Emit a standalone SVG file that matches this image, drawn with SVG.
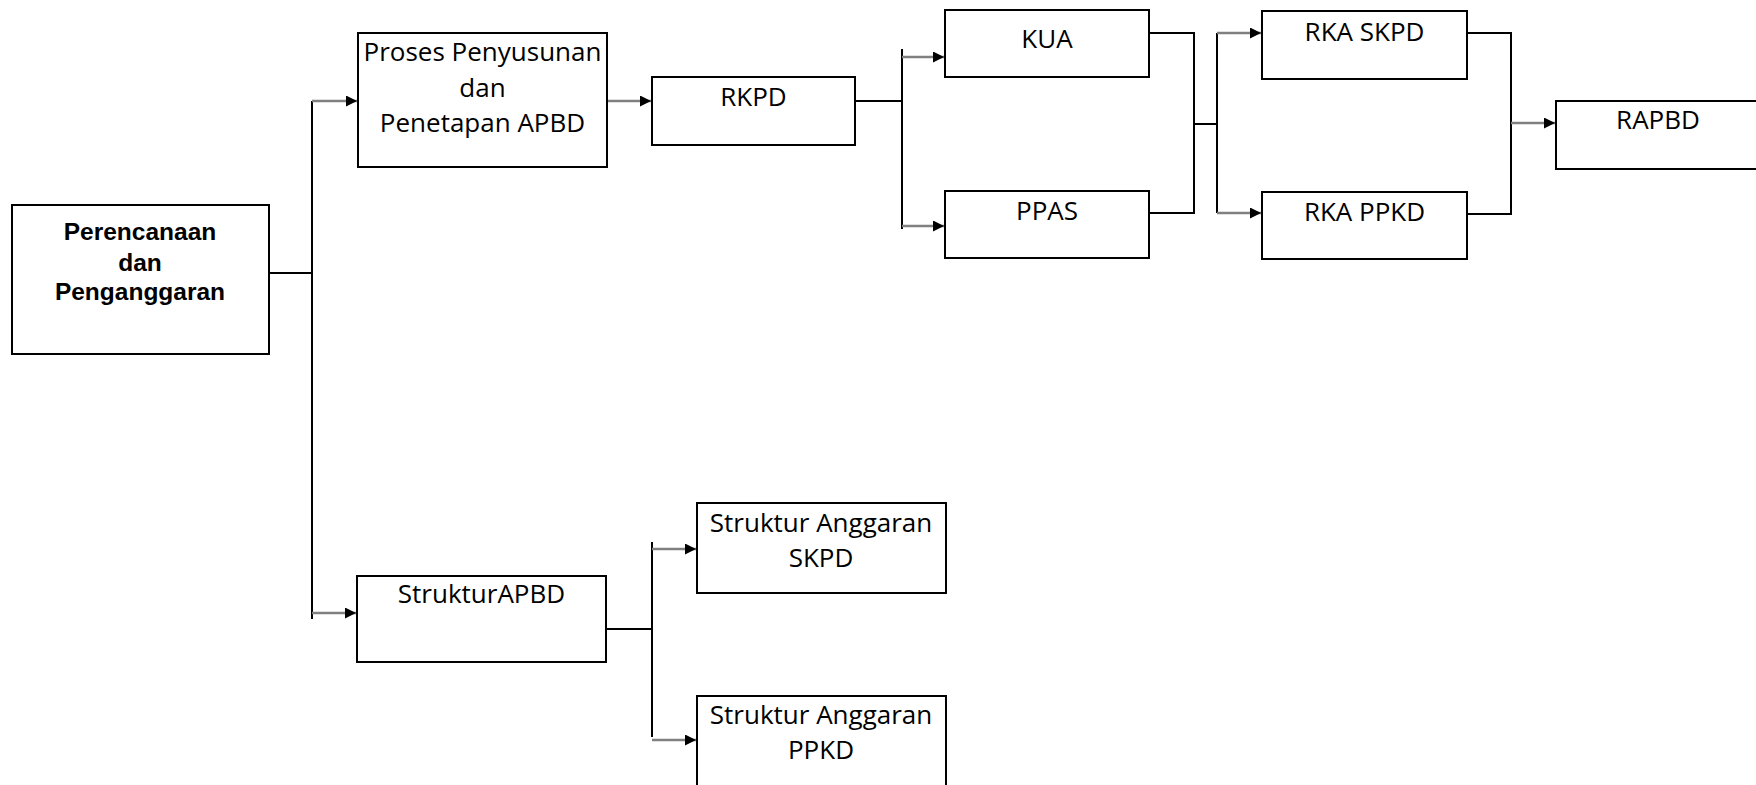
<svg xmlns="http://www.w3.org/2000/svg" width="1756" height="785" viewBox="0 0 1756 785">
<defs>
<style>
.box{fill:#fff;stroke:#000;stroke-width:2}
.t{font-family:"Open Sans","Noto Sans",sans-serif;font-size:26px;fill:#000;text-anchor:middle}
.tb{font-family:"Liberation Sans",Arial,sans-serif;font-weight:bold;font-size:24.5px;fill:#000;text-anchor:middle}
.ln{fill:none;stroke:#000;stroke-width:2}
.ar{fill:none;stroke:#808080;stroke-width:2.5;marker-end:url(#ah)}
</style>
<marker id="ah" viewBox="0 0 10 10" refX="10" refY="5" markerWidth="5" markerHeight="4.4" markerUnits="strokeWidth" orient="auto">
<path d="M0,0 L10,5 L0,10 z" fill="#000"/>
</marker>
</defs>
<rect width="1756" height="785" fill="#fff"/>
<g id="connectors">
<path class="ln" d="M269,273 H312 M312,101 V619"/>
<path class="ar" d="M312,101 H357"/>
<path class="ar" d="M312,613 H356"/>
<path class="ar" d="M607,101 H651"/>
<path class="ln" d="M855,101 H902 M902,49 V229"/>
<path class="ar" d="M902,57 H944"/>
<path class="ar" d="M902,226 H944"/>
<path class="ln" d="M1149,33 H1194 V213 H1149 M1194,124 H1217 M1217,33 V213"/>
<path class="ar" d="M1217,33 H1261"/>
<path class="ar" d="M1217,213 H1261"/>
<path class="ln" d="M1467,33 H1511 V214 H1467"/>
<path class="ar" d="M1511,123 H1555"/>
<path class="ln" d="M606,629 H652 M652,542 V737"/>
<path class="ar" d="M652,549 H696"/>
<path class="ar" d="M652,740 H696"/>
</g>
<g id="perencanaan">
<rect class="box" x="12" y="205" width="257" height="149"/>
<text class="tb" x="140" y="240">Perencanaan</text>
<text class="tb" x="140" y="271">dan</text>
<text class="tb" x="140" y="300">Penganggaran</text>
</g>
<g id="proses">
<rect class="box" x="358" y="33" width="249" height="134"/>
<text class="t" x="482.5" y="61">Proses Penyusunan</text>
<text class="t" x="482.5" y="97">dan</text>
<text class="t" x="482.5" y="132">Penetapan APBD</text>
</g>
<g id="rkpd">
<rect class="box" x="652" y="77" width="203" height="68"/>
<text class="t" x="753.5" y="106">RKPD</text>
</g>
<g id="kua">
<rect class="box" x="945" y="10" width="204" height="67"/>
<text class="t" x="1047" y="48">KUA</text>
</g>
<g id="ppas">
<rect class="box" x="945" y="191" width="204" height="67"/>
<text class="t" x="1047" y="220">PPAS</text>
</g>
<g id="rka-skpd">
<rect class="box" x="1262" y="11" width="205" height="68"/>
<text class="t" x="1364.5" y="41">RKA SKPD</text>
</g>
<g id="rka-ppkd">
<rect class="box" x="1262" y="192" width="205" height="67"/>
<text class="t" x="1364.5" y="221">RKA PPKD</text>
</g>
<g id="rapbd">
<rect class="box" x="1556" y="101" width="240" height="68"/>
<text class="t" x="1658" y="129">RAPBD</text>
</g>
<g id="struktur-apbd">
<rect class="box" x="357" y="576" width="249" height="86"/>
<text class="t" x="481.5" y="603">StrukturAPBD</text>
</g>
<g id="struktur-skpd">
<rect class="box" x="697" y="503" width="249" height="90"/>
<text class="t" x="821" y="532">Struktur Anggaran</text>
<text class="t" x="821" y="567">SKPD</text>
</g>
<g id="struktur-ppkd">
<rect class="box" x="697" y="696" width="249" height="120"/>
<text class="t" x="821" y="724">Struktur Anggaran</text>
<text class="t" x="821" y="759">PPKD</text>
</g>
</svg>
